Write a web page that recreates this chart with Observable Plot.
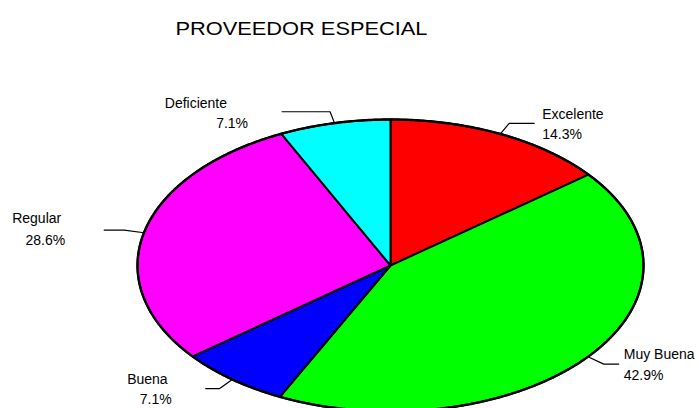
<!DOCTYPE html>
<html><head><meta charset="utf-8">
<script src="https://cdn.jsdelivr.net/npm/d3@7"></script>
<script src="https://cdn.jsdelivr.net/npm/@observablehq/plot@0.6"></script>
<style>body{margin:0;background:#fff} svg{display:block}</style>
</head><body><div id="chart"></div>
<script>
// ---- data ----
const title = "PROVEEDOR ESPECIAL";
const categories = ["Excelente", "Muy Buena", "Buena", "Regular", "Deficiente"];
const percents = [14.3, 42.9, 7.1, 28.6, 7.1];
const sliceColors = ["#ff0000", "#00ff00", "#0000ff", "#ff00ff", "#00ffff"];

// ---- layout (pixels) ----
const CX = 390, CY = 265, RX = 253, RY = 146;
const leaderLen = [25, 15, 14, 20, 48];
const nameOffset = [[8, -4], [5, -5], [-38, -5], [-43, -7], [-55, -4]];
const pctOffset  = [[8, 16], [5, 16], [-34, 15], [-39, 15], [-34, 16]];

const arcs = d3.pie().sort(null).value(d => d)(percents);

const slicePts = [];
arcs.forEach((a, i) => {
  const cat = categories[i];
  slicePts.push({cat, x: 0, y: 0});
  const n = Math.max(2, Math.ceil((a.endAngle - a.startAngle) / (Math.PI / 360)));
  for (let k = 0; k <= n; k++) {
    const t = a.startAngle + (a.endAngle - a.startAngle) * k / n;
    slicePts.push({cat, x: Math.sin(t), y: Math.cos(t)});
  }
  slicePts.push({cat, x: 0, y: 0});
});

const rim = d3.range(0, 721).map(k => {
  const t = k / 720 * 2 * Math.PI;
  return {x: Math.sin(t), y: Math.cos(t)};
});

const fmt = v => v.toFixed(1) + "%";
const marks = [
  Plot.line(slicePts, {x: "x", y: "y", z: "cat", fill: "cat", stroke: "black", strokeWidth: 2, strokeLinejoin: "round"}),
  Plot.line(rim, {x: "x", y: "y", stroke: "black", strokeWidth: 2.4})
];

arcs.forEach((a, i) => {
  const mid = (a.startAngle + a.endAngle) / 2;
  const s = Math.sin(mid), c = Math.cos(mid);
  const side = s >= 0 ? 1 : -1;
  const elbow = {x: 1.08 * s, y: 1.08 * c};
  const end = {x: elbow.x + side * leaderLen[i] / RX, y: elbow.y};
  marks.push(Plot.line([{x: s, y: c}, elbow, end], {x: "x", y: "y", stroke: "black", strokeWidth: 1.2}));
  const anchor = side > 0 ? "start" : "end";
  marks.push(Plot.text([end], {x: "x", y: "y", text: () => categories[i], textAnchor: anchor, lineAnchor: "bottom",
    dx: nameOffset[i][0], dy: nameOffset[i][1], fontSize: 14}));
  marks.push(Plot.text([end], {x: "x", y: "y", text: () => fmt(percents[i]), textAnchor: anchor, lineAnchor: "bottom",
    dx: pctOffset[i][0], dy: pctOffset[i][1], fontSize: 14}));
});

marks.push(Plot.text([title], {frameAnchor: "top-left", dx: 175, dy: 34, textAnchor: "start", lineAnchor: "bottom", fontSize: 18.5}));

const chart = Plot.plot({
  width: 699, height: 408, margin: 0,
  style: {fontFamily: "'Liberation Sans', Arial, sans-serif", background: "#fff", color: "#000"},
  x: {domain: [-1, 1], range: [CX - RX, CX + RX], axis: null},
  y: {domain: [-1, 1], range: [CY + RY, CY - RY], axis: null},
  color: {domain: categories, range: sliceColors},
  marks
});
chart.querySelectorAll("text").forEach(t => {
  if (t.textContent === title) {
    t.setAttribute("textLength", "252");
    t.setAttribute("lengthAdjust", "spacingAndGlyphs");
  }
});
document.getElementById("chart").appendChild(chart);
</script>
</body></html>
